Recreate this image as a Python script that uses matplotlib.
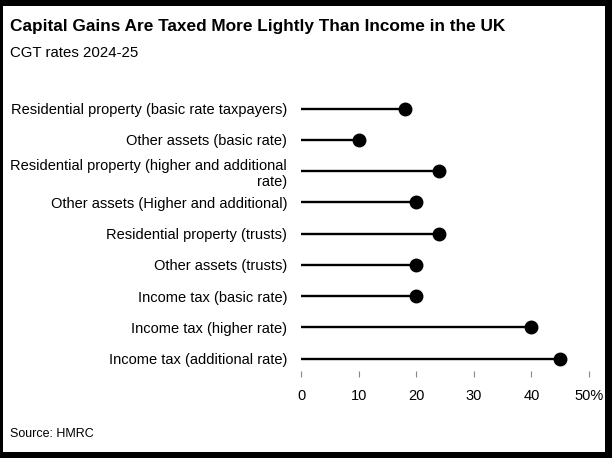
import matplotlib.pyplot as plt
from matplotlib.patches import Rectangle

labels = [
    "Residential property (basic rate taxpayers)",
    "Other assets (basic rate)",
    "Residential property (higher and additional\nrate)",
    "Other assets (Higher and additional)",
    "Residential property (trusts)",
    "Other assets (trusts)",
    "Income tax (basic rate)",
    "Income tax (higher rate)",
    "Income tax (additional rate)",
]
rates = [18, 10, 24, 20, 24, 20, 20, 40, 45]
xticks = [0, 10, 20, 30, 40, 50]
xtick_labels = ["0", "10", "20", "30", "40", "50%"]

plt.rcParams["font.family"] = ["Liberation Sans", "DejaVu Sans"]

W, H = 612, 458
fig = plt.figure(figsize=(W / 100, H / 100), dpi=100, facecolor="black")
# white card inside the black frame
fig.patches.append(Rectangle((3 / W, 1 - 452 / H), 602 / W, 446 / H,
                             transform=fig.transFigure, facecolor="white",
                             edgecolor="none", zorder=-5))

ax = fig.add_axes([301 / W, 1 - 371 / H, 288 / W, 278.1 / H])
ax.set_facecolor("none")

ypos = list(range(len(labels)))
ax.hlines(ypos, 0, rates, color="black", linewidth=1.7)
ax.plot(rates, ypos, "o", color="black", markersize=9)

ax.set_xlim(0, 50)
ax.set_ylim(8.4, -0.5)
ax.set_xticks(xticks)
ax.set_xticklabels(xtick_labels)
ax.set_yticks(ypos)
ax.set_yticklabels(labels, ha="right", multialignment="right")
ax.tick_params(axis="y", length=0, pad=10, labelsize=10.5)
ax.tick_params(axis="x", length=4.3, width=0.8, color="#888888", pad=9,
               labelsize=10.5)
for s in ax.spines.values():
    s.set_visible(False)

fig.text(10 / W, 1 - 31 / H, "Capital Gains Are Taxed More Lightly Than Income in the UK",
         fontsize=12.4, fontweight="bold", va="baseline", ha="left")
fig.text(10 / W, 1 - 57 / H, "CGT rates 2024-25", fontsize=10.8, va="baseline", ha="left")
fig.text(10 / W, 1 - 437 / H, "Source: HMRC", fontsize=9, va="baseline", ha="left")

fig.savefig("out.png", dpi=100, facecolor="black")
